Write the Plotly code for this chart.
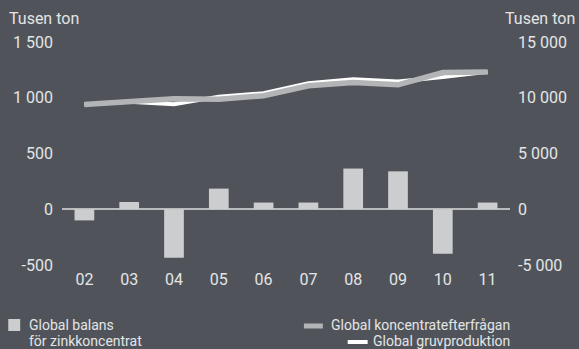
import plotly.graph_objects as go

years = ["02", "03", "04", "05", "06", "07", "08", "09", "10", "11"]
balance = [-100, 65, -435, 185, 60, 60, 365, 340, -400, 60]
demand = [9400, 9600, 9900, 9870, 10180, 11070, 11370, 11160, 12260, 12320]
production = [9400, 9650, 9420, 10100, 10400, 11300, 11650, 11460, 11850, 12320]
left_ticks = [-500, 0, 500, 1000, 1500]
left_text = ["-500", "0", "500", "1 000", "1 500"]
right_ticks = [-5000, 0, 5000, 10000, 15000]
right_text = ["-5 000", "0", "5 000", "10 000", "15 000"]

BG = "#50545a"
TXT = "#e4e5e6"
FONT = "Roboto"

fig = go.Figure()
fig.add_trace(go.Bar(x=years, y=balance, width=0.44, marker=dict(color="#cbcdcf", line=dict(width=0)),
                     name="Global balans för zinkkoncentrat", yaxis="y"))
fig.add_trace(go.Scatter(x=years, y=production, mode="lines", line=dict(color="#ffffff", width=4),
                         name="Global gruvproduktion", yaxis="y2"))
fig.add_trace(go.Scatter(x=years, y=demand, mode="lines", line=dict(color="#b2b4b6", width=5.5),
                         name="Global koncentratefterfrågan", yaxis="y2"))

L, R, T, B = 62, 67, 42, 84
W, H = 579, 349
pw, ph = W - L - R, H - T - B

def px(x):
    return (x - L) / pw

def py(y):
    return (H - B - y) / ph

fig.update_layout(
    width=W, height=H,
    margin=dict(l=L, r=R, t=T, b=B, pad=0),
    paper_bgcolor=BG, plot_bgcolor=BG,
    font=dict(family=FONT, color=TXT, size=16),
    showlegend=False,
    xaxis=dict(type="category", range=[-0.5, 9.5], showgrid=False, showline=False, ticks="",
               tickfont=dict(size=16, color=TXT), ticklabelstandoff=3),
    yaxis=dict(range=[-500, 1500], tickvals=left_ticks, ticktext=left_text, showgrid=False,
               zeroline=True, zerolinecolor="#b9bbbd", zerolinewidth=2, showline=False,
               ticks="", ticklabelstandoff=8, tickfont=dict(size=16, color=TXT)),
    yaxis2=dict(range=[-5000, 15000], tickvals=right_ticks, ticktext=right_text, overlaying="y",
                side="right", showgrid=False, zeroline=False, showline=False, ticks="",
                ticklabelstandoff=7, tickfont=dict(size=16, color=TXT)),
)

LF = 14
ann = []
ann.append(dict(text="Tusen ton", x=px(7), y=py(19), xref="paper", yref="paper",
                xanchor="left", yanchor="middle", showarrow=False, font=dict(size=16, color=TXT)))
ann.append(dict(text="Tusen ton", x=px(579), y=py(19), xref="paper", yref="paper",
                xanchor="right", yanchor="middle", showarrow=False, font=dict(size=16, color=TXT)))
# legend
ann.append(dict(text="Global balans", x=px(27), y=py(325), xref="paper", yref="paper",
                xanchor="left", yanchor="middle", showarrow=False, font=dict(size=LF, color=TXT)))
ann.append(dict(text="för zinkkoncentrat", x=px(27), y=py(341), xref="paper", yref="paper",
                xanchor="left", yanchor="middle", showarrow=False, font=dict(size=LF, color=TXT)))
ann.append(dict(text="Global koncentratefterfrågan", x=px(514), y=py(325), xref="paper", yref="paper",
                xanchor="right", yanchor="middle", showarrow=False, font=dict(size=LF, color=TXT)))
ann.append(dict(text="Global gruvproduktion", x=px(514), y=py(341), xref="paper", yref="paper",
                xanchor="right", yanchor="middle", showarrow=False, font=dict(size=LF, color=TXT)))
fig.update_layout(annotations=ann)

shapes = [
    dict(type="rect", xref="paper", yref="paper", x0=px(8), x1=px(20), y0=py(331), y1=py(319),
         fillcolor="#cbcdcf", line=dict(width=0)),
    dict(type="line", xref="paper", yref="paper", x0=px(305), x1=px(324), y0=py(326), y1=py(326),
         line=dict(color="#b2b4b6", width=5)),
    dict(type="line", xref="paper", yref="paper", x0=px(349), x1=px(369), y0=py(342), y1=py(342),
         line=dict(color="#ffffff", width=4)),
]
fig.update_layout(shapes=shapes)

fig.write_html("out.html")
